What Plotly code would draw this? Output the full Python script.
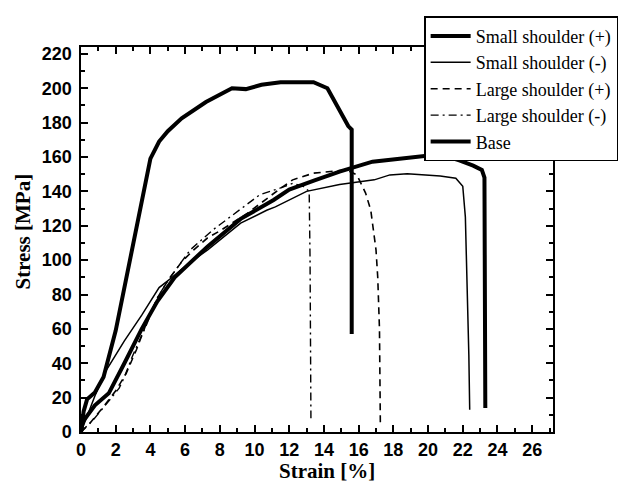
import plotly.graph_objects as go

# Engineering stress-strain curves of the welded joints and the base metal
ss_plus_strain = [0, 0.1, 0.8, 1.6, 2.5, 3.5, 4.4, 5.4, 7.3, 9.2, 11.1, 12.0, 13.5, 14.9,
                  16.8, 18.4, 20.7, 21.8, 22.6, 23.1, 23.25, 23.3]
ss_plus_stress = [0, 6, 15.5, 22.5, 40, 60, 76, 90, 108, 124, 135, 141, 146.5, 151.5,
                  157.3, 159.3, 161.6, 158, 155, 152.5, 148, 14]

ss_minus_strain = [0, 0.3, 0.8, 1.4, 2.5, 3.5, 4.5, 5.2, 6.2, 7.3, 9.2, 10.7, 11.2, 13.0,
                   14.9, 16.9, 17.8, 18.8, 20.7, 21.6, 22.0, 22.15, 22.25, 22.35, 22.4]
ss_minus_stress = [0, 8, 21, 35, 53, 68, 84, 89.5, 98, 106, 121.5, 129, 131, 140,
                   144, 146.7, 149.6, 150.2, 149, 147.7, 143, 125, 90, 45, 13]

ls_plus_strain = [0, 0.5, 1.3, 2.0, 2.6, 3.2, 3.8, 4.4, 5.0, 5.8, 6.5, 7.3, 8.0, 9.6,
                  11.5, 12.2, 13.4, 14.5, 15.3, 15.9, 16.4, 16.7, 17.0, 17.1, 17.2, 17.25]
ls_plus_stress = [0, 5, 14.7, 24, 34, 48, 64, 78, 88, 99, 106, 113, 117, 127.3,
                  141.8, 146.7, 150.6, 151.5, 152.5, 149.6, 139, 129, 106, 90, 60, 5]

ls_minus_strain = [0, 0.7, 1.6, 2.2, 2.5, 3.0, 3.8, 4.4, 5.0, 5.8, 6.3, 7.6, 9.0, 10.3,
                   11.5, 12.2, 12.8, 13.15, 13.2, 13.25]
ls_minus_stress = [0, 7, 18, 25.5, 32, 45, 63, 78, 88, 99, 106, 117.6, 128, 138,
                   142, 144.7, 143, 140, 100, 8]

base_strain = [0, 0.15, 0.35, 0.8, 1.3, 2.0, 4.0, 4.5, 5.0, 5.8, 7.2, 8.7,
               9.5, 10.4, 11.5, 13.4, 14.2, 14.8, 15.4, 15.6, 15.6]
base_stress = [0, 12, 19, 23, 32, 59, 159, 169, 175, 182.5, 192, 200,
               199.5, 202, 203.5, 203.5, 200, 189, 178, 176, 57]

x_ticks = list(range(0, 27, 2))
y_ticks = list(range(0, 221, 20))
x_range = [0, 27.2]
y_range = [0, 224]

series = [
    ("Small shoulder (+)", ss_plus_strain, ss_plus_stress, 4, "solid"),
    ("Small shoulder (-)", ss_minus_strain, ss_minus_stress, 1.5, "solid"),
    ("Large shoulder (+)", ls_plus_strain, ls_plus_stress, 1.6, "7px,5px"),
    ("Large shoulder (-)", ls_minus_strain, ls_minus_stress, 1.4, "8px,4px,2px,4px"),
    ("Base", base_strain, base_stress, 4, "solid"),
]

fig = go.Figure()
for name, xs, ys, w, dash in series:
    fig.add_trace(go.Scatter(
        x=xs, y=ys, name=name, mode="lines",
        line=dict(color="black", width=w, dash=dash),
    ))

title_font = dict(family="Liberation Serif, Times New Roman", size=21, color="black")

fig.update_layout(
    width=636, height=486,
    margin=dict(l=81, r=83, t=47, b=54, autoexpand=False),
    plot_bgcolor="white",
    # tick labels take the global font
    font=dict(family="Liberation Sans, Arial", size=18, color="black"),
    xaxis=dict(range=x_range, tickvals=x_ticks, ticktext=[f"<b>{v}</b>" for v in x_ticks],
               showline=True, linecolor="black", linewidth=2,
               mirror="allticks", ticks="inside", ticklen=7, tickwidth=2, tickcolor="black",
               minor=dict(dtick=1, ticks="inside", ticklen=4, tickcolor="black"),
               ticklabelstandoff=0, automargin=False),
    yaxis=dict(range=y_range, tickvals=y_ticks,
               ticktext=[f"<b>{v}</b>\u2009" for v in y_ticks],
               showline=True, linecolor="black", linewidth=2,
               mirror="allticks", ticks="inside", ticklen=7, tickwidth=2, tickcolor="black",
               minor=dict(dtick=10, ticks="inside", ticklen=4, tickcolor="black"),
               automargin=False),
    legend=dict(
        x=0.727, y=1.08, xanchor="left", yanchor="top",
        bgcolor="white", bordercolor="black", borderwidth=1.5,
        font=dict(family="Liberation Serif, Times New Roman", size=18, color="black"),
        tracegroupgap=0, itemwidth=40,
    ),
    annotations=[
        dict(text="<b>Strain [%]</b>", xref="paper", yref="paper", x=0.5, y=0,
             xanchor="center", yanchor="middle", yshift=-39, xshift=10,
             showarrow=False, font=title_font),
        dict(text="<b>Stress [MPa]</b>", xref="paper", yref="paper", x=0, y=0.5,
             xanchor="center", yanchor="middle", xshift=-59, yshift=8, textangle=-90,
             showarrow=False, font=title_font),
    ],
)

fig.write_html("out.html")
